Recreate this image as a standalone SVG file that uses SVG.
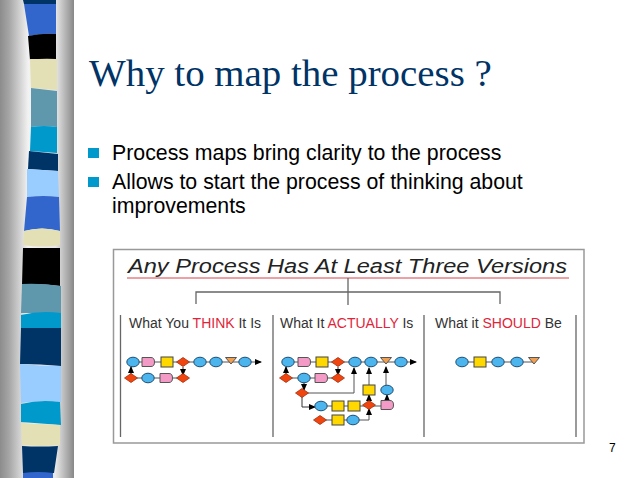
<svg xmlns="http://www.w3.org/2000/svg" width="638" height="478" viewBox="0 0 638 478">
<style>
.c{fill:#4db5ee;stroke:#1d4f74;stroke-width:1}
.p{fill:#f49ac6;stroke:#555;stroke-width:1}
.y{fill:#ffd800;stroke:#444;stroke-width:1}
.d{fill:#f0450f;stroke:#a03010;stroke-width:.8}
.t{fill:#f0a050;stroke:#555;stroke-width:1}
.l{fill:none;stroke:#555;stroke-width:1}
.b{fill:none;stroke:#333;stroke-width:1}
.v{stroke:#666;stroke-width:1.3;fill:none}
.h{font-family:"Liberation Sans",Arial,sans-serif;font-size:14px;fill:#333}
.r{fill:#e0253a}
.body{font-family:"Liberation Sans",Arial,sans-serif;font-size:21.3px;fill:#000}
</style>
<defs>
<linearGradient id="g" x1="0" x2="1" y1="0" y2="0">
<stop offset="0" stop-color="#8c8c8c"/><stop offset=".12" stop-color="#a5a5a5"/><stop offset=".38" stop-color="#f2f2f2"/><stop offset=".75" stop-color="#e8e8e8"/><stop offset="1" stop-color="#888"/>
</linearGradient>
<marker id="a" markerWidth="7" markerHeight="6" refX="6" refY="3" orient="auto" markerUnits="userSpaceOnUse"><path d="M0,0L7,3L0,6Z" fill="#000"/></marker>
<ellipse id="ci" class="c" cx="0" cy="0" rx="6.2" ry="4.8"/>
<path id="pi" class="p" d="M-6,-4.5H3Q6.5,-4.5 6.5,0Q6.5,4.5 3,4.5H-6Z"/>
<rect id="ye" class="y" x="-6" y="-5" width="12" height="10"/>
<path id="di" class="d" d="M-6.5,0L0,-4.5L6.5,0L0,4.5Z"/>
<path id="tr" class="t" d="M-5.5,-3.5H5.5L0,3Z"/>
</defs>
<rect width="638" height="478" fill="#fff"/>
<g id="sidebar">
<rect x="0" y="0" width="74" height="478" fill="url(#g)"/>
<path fill="#003366" d="M23,0H56V4H24Z"/>
<path fill="#3366cc" d="M24,4H56V34Q42,33 29,36Z"/>
<path fill="#000" d="M28,36Q42,33 56,34V59Q42,58 30,60Z"/>
<path fill="#e3e0b5" d="M30,59H57V90L31,88Z"/>
<path fill="#5f97ad" d="M31,88L57,91V127Q44,125 31,127Z"/>
<path fill="#0099cc" d="M31,127Q44,125 57,127V153L30,151Z"/>
<path fill="#003366" d="M29,151L58,154V171L28,169Z"/>
<path fill="#99ccff" d="M27,169L58,171L59,197Q44,195 27,197Z"/>
<path fill="#3366cc" d="M27,197Q44,195 59,197L60,231Q42,226 24,231Z"/>
<path fill="#e3e0b5" d="M24,231Q42,226 60,231V245Q42,248 23,245Z"/>
<path fill="#000" d="M23,248H60V286Q40,283 22,285Z"/>
<path fill="#5f97ad" d="M22,284Q40,283 61,286V313H21Z"/>
<path fill="#0099cc" d="M21,315Q40,310 61,313V328H21Z"/>
<path fill="#003366" d="M21,328H61V366Q40,364 20,364Z"/>
<path fill="#99ccff" d="M20,364Q40,366 61,366V402Q40,400 21,403Z"/>
<path fill="#0099cc" d="M21,404Q40,399 60,402L61,425L21,422Z"/>
<path fill="#e3e0b5" d="M21,423L60,425V445Q40,447 22,445Z"/>
<path fill="#003366" d="M22,446Q40,447 58,446L54,473H23Z"/>
<path fill="#3366cc" d="M23,473Q38,471 53,473V478H23Z"/>
</g>
<text id="title" x="89" y="86" font-family="'Liberation Serif','Times New Roman',serif" font-size="38.900" fill="#003366">Why to map the process ?</text>
<g id="bullets">
<rect x="88" y="148" width="11" height="10" fill="#0099cc"/>
<rect x="88" y="177" width="11" height="10" fill="#0099cc"/>
<text class="body" x="112" y="160">Process maps bring clarity to the process</text>
<text class="body" x="112" y="188.500">Allows to start the process of thinking about</text>
<text class="body" x="112" y="213">improvements</text>
</g>
<g id="picture">
<rect x="113.500" y="249.500" width="470.500" height="193.500" fill="#fff" stroke="#999" stroke-width="1.500"/>
<text x="128" y="273" font-family="'Liberation Sans',Arial,sans-serif" font-size="20" font-style="italic" fill="#222" textLength="439" lengthAdjust="spacingAndGlyphs">Any Process Has At Least Three Versions</text>
<path d="M127,278H569" stroke="#d8434a" stroke-width="1" fill="none"/>
<path class="v" d="M196,304V292H500V304M348,278V305"/>
<path class="v" d="M120.500,315V437M273,315V437M424,315V437M576,315V437"/>
<text class="h" x="129" y="328">What You <tspan class="r">THINK</tspan> It Is</text>
<text class="h" x="280" y="328">What It <tspan class="r">ACTUALLY</tspan> Is</text>
<text class="h" x="435" y="328">What it <tspan class="r">SHOULD</tspan> Be</text>
</g>
<g id="connectors">
<path class="l" marker-end="url(#a)" d="M132,362H261"/>
<path class="l" d="M131,378H183"/>
<path class="b" marker-end="url(#a)" d="M131,376V367"/>
<path class="b" marker-end="url(#a)" d="M183,367V375"/>
<path class="l" marker-end="url(#a)" d="M288,362H416"/>
<path class="l" d="M286,378H338"/>
<path class="b" marker-end="url(#a)" d="M286,376V367"/>
<path class="b" marker-end="url(#a)" d="M338,367V375"/>
<path class="b" marker-end="url(#a)" d="M304,382V390"/>
<path class="l" marker-end="url(#a)" d="M306,393H354V368"/>
<path class="b" marker-end="url(#a)" d="M302,397V407H315"/>
<path class="l" d="M321,406H387"/>
<path class="l" d="M320,420H353"/>
<path class="l" marker-end="url(#a)" d="M353,420H369V409"/>
<path class="l" marker-end="url(#a)" d="M369,400V368"/>
<path class="b" marker-end="url(#a)" d="M369,402V395"/>
<path class="l" marker-end="url(#a)" d="M386,385V367"/>
<path class="b" marker-end="url(#a)" d="M387,401V395"/>
<path class="l" d="M462,362H534"/>
</g>
<g id="n1"><use href="#ci" x="133" y="362"/></g>
<g id="n2"><use href="#pi" x="148" y="362"/></g>
<g id="n3"><use href="#ye" x="167" y="362"/></g>
<g id="n4"><use href="#di" x="183" y="362"/></g>
<g id="n5"><use href="#ci" x="200" y="362"/></g>
<g id="n6"><use href="#ci" x="216" y="362"/></g>
<g id="n7"><use href="#tr" x="231" y="361"/></g>
<g id="n8"><use href="#ci" x="245" y="362"/></g>
<g id="n9"><use href="#di" x="131" y="378"/></g>
<g id="n10"><use href="#ci" x="148" y="378"/></g>
<g id="n11"><use href="#pi" x="166" y="378"/></g>
<g id="n12"><use href="#di" x="183" y="378"/></g>
<g id="n13"><use href="#ci" x="288" y="362"/></g>
<g id="n14"><use href="#pi" x="304" y="362"/></g>
<g id="n15"><use href="#ye" x="322" y="362"/></g>
<g id="n16"><use href="#di" x="338" y="362"/></g>
<g id="n17"><use href="#ci" x="355" y="362"/></g>
<g id="n18"><use href="#ci" x="371" y="362"/></g>
<g id="n19"><use href="#tr" x="386" y="361"/></g>
<g id="n20"><use href="#ci" x="401" y="362"/></g>
<g id="n21"><use href="#di" x="286" y="378"/></g>
<g id="n22"><use href="#ci" x="304" y="378"/></g>
<g id="n23"><use href="#pi" x="321" y="378"/></g>
<g id="n24"><use href="#di" x="338" y="378"/></g>
<g id="n25"><use href="#di" x="302" y="393"/></g>
<g id="n26"><use href="#ci" x="321" y="406"/></g>
<g id="n27"><use href="#ye" x="338" y="406"/></g>
<g id="n28"><use href="#ye" x="354" y="406"/></g>
<g id="n29"><use href="#di" x="369" y="405"/></g>
<g id="n30"><use href="#pi" x="387" y="405"/></g>
<g id="n31"><use href="#di" x="320" y="420"/></g>
<g id="n32"><use href="#ye" x="338" y="420"/></g>
<g id="n33"><use href="#ci" x="353" y="420"/></g>
<g id="n34"><use href="#ye" x="369" y="390"/></g>
<g id="n35"><use href="#ci" x="387" y="390"/></g>
<g id="n36"><use href="#ci" x="462" y="362"/></g>
<g id="n37"><use href="#ye" x="480" y="362"/></g>
<g id="n38"><use href="#ci" x="498" y="362"/></g>
<g id="n39"><use href="#ci" x="517" y="362"/></g>
<g id="n40"><use href="#tr" x="534" y="361"/></g>
<text id="page" x="609" y="452" font-family="'Liberation Sans',Arial,sans-serif" font-size="12" fill="#000">7</text>
</svg>
